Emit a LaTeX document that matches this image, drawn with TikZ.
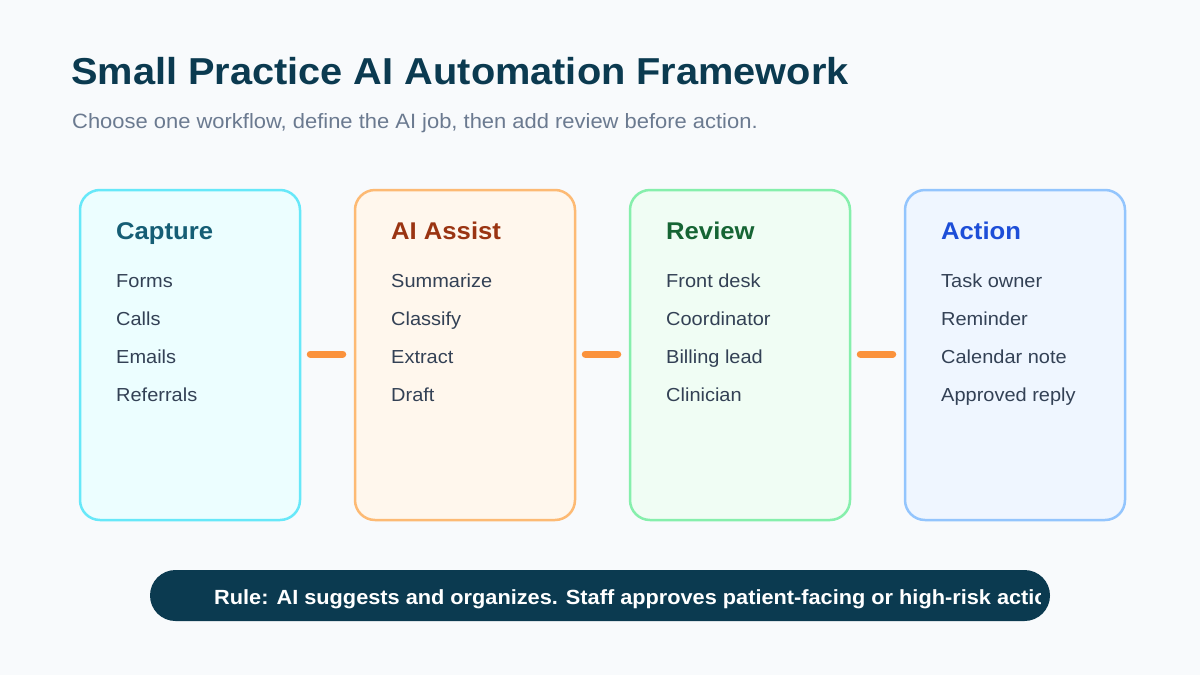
\documentclass[tikz,border=0pt]{standalone}
\usepackage{fontspec}
\setmainfont{Liberation Sans}[FakeStretch=1.06]
\definecolor{bgc}{HTML}{F8FAFC}
\definecolor{navy}{HTML}{0B3A50}
\definecolor{subc}{HTML}{6B7A90}
\definecolor{itemc}{HTML}{334155}
\definecolor{conc}{HTML}{FB923C}
\definecolor{b1}{HTML}{67E8F9}\definecolor{f1}{HTML}{ECFEFF}\definecolor{t1}{HTML}{155E75}
\definecolor{b2}{HTML}{FDBA74}\definecolor{f2}{HTML}{FFF7ED}\definecolor{t2}{HTML}{9A3412}
\definecolor{b3}{HTML}{86EFAC}\definecolor{f3}{HTML}{F0FDF4}\definecolor{t3}{HTML}{166534}
\definecolor{b4}{HTML}{93C5FD}\definecolor{f4}{HTML}{EFF6FF}\definecolor{t4}{HTML}{1D4ED8}
\tikzset{
  card/.style={draw, line width=2.5pt, rounded corners=20pt, minimum width=220pt, minimum height=330pt, inner sep=0pt},
  cardtitle/.style={anchor=base west, inner sep=0pt, font=\fontsize{24.2}{28}\selectfont\bfseries},
  item/.style={anchor=base west, inner sep=0pt, text=itemc, font=\fontsize{18.85}{22}\selectfont},
  conn/.style={draw=conc, line width=7pt, line cap=round, shorten <=10pt, shorten >=12pt}
}
\begin{document}
\begin{tikzpicture}[x=1pt,y=-1pt]
\useasboundingbox (0,0) rectangle (1200,675);
\fill[bgc] (0,0) rectangle (1200,675);
\node[anchor=base west, inner sep=0pt, text=navy, font=\fontsize{37.5}{40}\selectfont\bfseries] (title) at (71,84) {Small Practice AI Automation Framework};
\node[anchor=base west, inner sep=0pt, text=subc, font=\fontsize{20.7}{24}\selectfont] (sub) at (72,128) {Choose one workflow, define the AI job, then add review before action.};
% cards
\node[card, draw=b1, fill=f1] (c1) at (190,355) {};
\node[card, draw=b2, fill=f2] (c2) at (465,355) {};
\node[card, draw=b3, fill=f3] (c3) at (740,355) {};
\node[card, draw=b4, fill=f4] (c4) at (1015,355) {};
\node[cardtitle, text=t1] (h1) at (116,239) {Capture};
\node[cardtitle, text=t2] (h2) at (391,239) {AI Assist};
\node[cardtitle, text=t3] (h3) at (666,239) {Review};
\node[cardtitle, text=t4] (h4) at (941,239) {Action};
\node[item] (i11) at (116,287.5) {Forms};
\node[item] (i12) at (116,325.5) {Calls};
\node[item] (i13) at (116,363.5) {Emails};
\node[item] (i14) at (116,401.5) {Referrals};
\node[item] (i21) at (391,287.5) {Summarize};
\node[item] (i22) at (391,325.5) {Classify};
\node[item] (i23) at (391,363.5) {Extract};
\node[item] (i24) at (391,401.5) {Draft};
\node[item] (i31) at (666,287.5) {Front desk};
\node[item] (i32) at (666,325.5) {Coordinator};
\node[item] (i33) at (666,363.5) {Billing lead};
\node[item] (i34) at (666,401.5) {Clinician};
\node[item] (i41) at (941,287.5) {Task owner};
\node[item] (i42) at (941,325.5) {Reminder};
\node[item] (i43) at (941,363.5) {Calendar note};
\node[item] (i44) at (941,401.5) {Approved reply};
% connectors
\draw[conn, shorten <=9pt, shorten >=11pt] ([yshift=1pt]c1.east) -- ([yshift=1pt]c2.west);
\draw[conn, shorten <=9pt, shorten >=11pt] ([yshift=1pt]c2.east) -- ([yshift=1pt]c3.west);
\draw[conn, shorten <=9pt, shorten >=11pt] ([yshift=1pt]c3.east) -- ([yshift=1pt]c4.west);
% rule bar
\node[fill=navy, rounded corners=25.5pt, minimum width=900pt, minimum height=51pt, inner sep=0pt] (bar) at (600,595.5) {};
\begin{scope}
\clip[rounded corners=25.5pt] (150,570) rectangle (1050,621);
\clip (150,570) rectangle (1040,621);
\node[anchor=base west, inner sep=0pt, text=white, font=\fontsize{20.5}{24}\selectfont\bfseries] (rule) at (214,604) {Rule: AI suggests and organizes. Staff approves patient-facing or high-risk actions.};
\end{scope}
\end{tikzpicture}
\end{document}
